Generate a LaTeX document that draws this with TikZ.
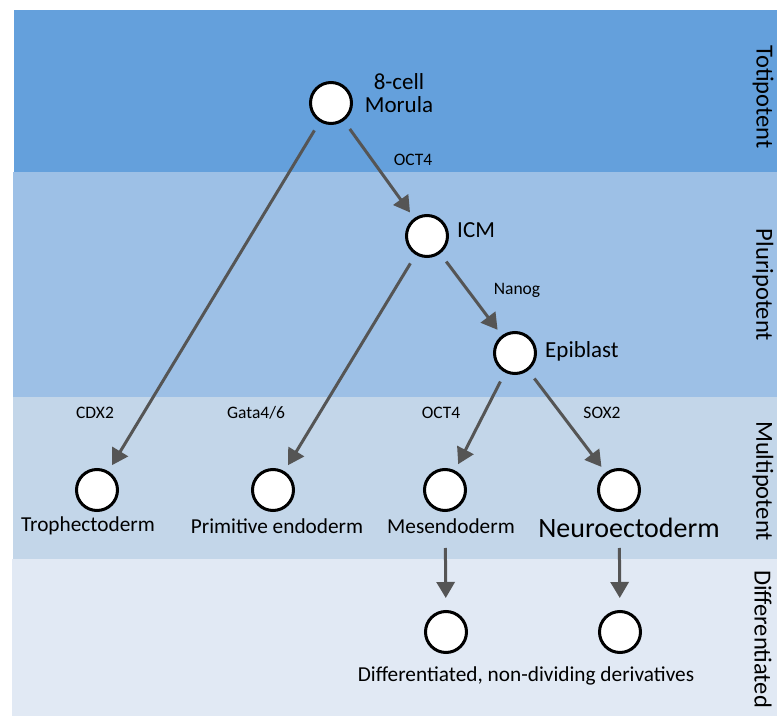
\documentclass[tikz,border=0pt]{standalone}
\usepackage{fontspec}
\setmainfont{Carlito}
\usetikzlibrary{arrows.meta}
\definecolor{toti}{RGB}{100,160,220}
\definecolor{pluri}{RGB}{157,192,230}
\definecolor{multi}{RGB}{195,214,233}
\definecolor{diffc}{RGB}{225,233,244}
\definecolor{arr}{RGB}{85,85,85}
\begin{document}
\begin{tikzpicture}[x=1pt,y=-1pt,
  cellnode/.style={circle,draw=black,fill=white,line width=3pt,minimum size=41pt,inner sep=0pt},
  bigtxt/.style={font=\fontsize{23}{23}\selectfont,text=black,inner sep=0pt},
  nametxt/.style={font=\fontsize{21.3}{22}\selectfont,text=black,inner sep=0pt},
  smalltxt/.style={font=\fontsize{17.5}{18}\selectfont,text=black,inner sep=0pt},
  stagetxt/.style={font=\fontsize{24.5}{25}\selectfont,rotate=-90,text=black,inner sep=0pt},
  flowarrow/.style={draw=arr,line width=3pt,-{Triangle[length=16pt,width=18pt]},shorten <=10pt,shorten >=7pt}]
\useasboundingbox (0,0) rectangle (777,717);
% bands
\fill[toti] (14,10) rectangle (777,172);
\fill[pluri] (13,172) rectangle (777,397);
\fill[multi] (13,397) rectangle (777,559);
\fill[diffc] (12,559) rectangle (777,716);
\node[stagetxt] (st1) at (763,97) {Totipotent};
\node[stagetxt] (st2) at (763,285) {Pluripotent};
\node[stagetxt] (st3) at (763,481) {Multipotent};
\node[stagetxt] (st4) at (763,639) {Differentiated};
% cells
\node[cellnode] (mor) at (331,103) {};
\node[cellnode] (icm) at (427,236) {};
\node[cellnode] (epi) at (515,353) {};
\node[cellnode] (tro) at (97,490) {};
\node[cellnode] (pri) at (273,490) {};
\node[cellnode] (mes) at (445,490) {};
\node[cellnode] (neu) at (619,490) {};
\node[cellnode] (d1) at (446,632) {};
\node[cellnode] (d2) at (620,632) {};
% labels
\node[bigtxt,align=center] (lmor) at (399,93) {8-cell\\Morula};
\node[bigtxt,anchor=west] (licm) at (457,230) {ICM};
\node[bigtxt,anchor=west] (lepi) at (545,351) {Epiblast};
\node[nametxt] (ltro) at (88,526) {Trophectoderm};
\node[nametxt] (lpri) at (277,526) {Primitive endoderm};
\node[nametxt] (lmes) at (451,526) {Mesendoderm};
\node[font=\fontsize{28}{29}\selectfont,inner sep=0pt] (lneu) at (629,528) {Neuroectoderm};
\node[nametxt] (ldiff) at (526,676) {Differentiated, non-dividing derivatives};
\node[smalltxt] (s1) at (413,160) {OCT4};
\node[smalltxt] (s2) at (517,290) {Nanog};
\node[smalltxt] (s3) at (95,413) {CDX2};
\node[smalltxt] (s4) at (256,413) {Gata4/6};
\node[smalltxt] (s5) at (441,413) {OCT4};
\node[smalltxt] (s6) at (602,413) {SOX2};
% arrows
\draw[flowarrow] (mor) -- (tro);
\draw[flowarrow] (mor) -- (icm);
\draw[flowarrow] (icm) -- (pri);
\draw[flowarrow] (icm) -- (epi);
\draw[flowarrow] (epi) -- (mes);
\draw[flowarrow] (epi) -- (neu);
\draw[flowarrow,shorten <=36pt,shorten >=12pt] (mes) -- (d1);
\draw[flowarrow,shorten <=36pt,shorten >=12pt] (neu) -- (d2);
\end{tikzpicture}
\end{document}
